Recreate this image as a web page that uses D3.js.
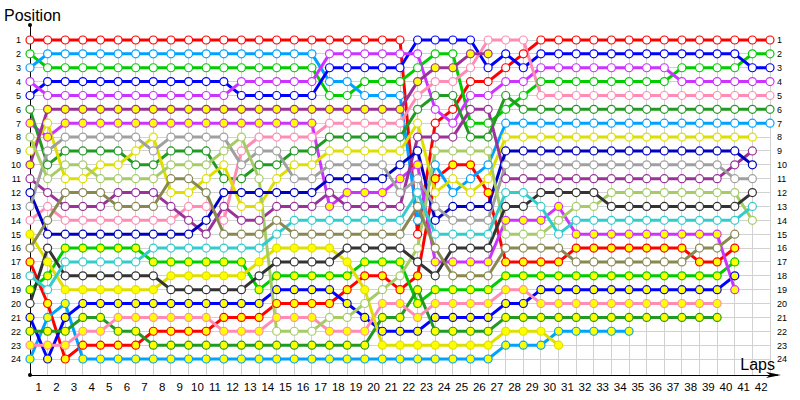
<!DOCTYPE html>
<html>
<head>
<meta charset="utf-8">
<script src="https://cdn.jsdelivr.net/npm/d3@7"></script>
<style>
  body { margin: 0; background: #fff; }
  svg { display: block; font-family: "Liberation Sans", Arial, sans-serif; }
</style>
</head>
<body>
<div id="chart"></div>
<script>
const width = 800;
const height = 400;

// drivers: code, colour, yellow-filled marker (second car of the team)
const driverCodes  = ["RW","RY","GW","GY","LW","LY","BW","BY","MW","MY","DW","DY",
                      "PW","PY","YW","YY","VW","VY","NW","AW","LIW","KW","CW","OW"];
const driverColors = ["#ff0000","#ff0000","#00cc00","#00cc00","#00a2ff","#00a2ff",
                      "#0000ff","#0000ff","#cc33ff","#cc33ff","#229922","#229922",
                      "#ff8cb4","#ff8cb4","#dede00","#dede00","#993399","#993399",
                      "#0000c0","#a0a0a0","#a6cc66","#333333","#33cccc","#888850"];
const driverFilled = [false,true,false,true,false,true,false,true,false,true,false,true,
                      false,true,false,true,false,true,false,false,false,false,false,false];

// running order at the end of each lap (lap 0 = grid), position 1 first
const lapOrder = [
  "RW GW LW MW BW DW MY LIW YW VY VW NW AW PW YY OW RY CW GY KW BY DY PY LY",
  "RW LW GW BW MW VY YW MY AW DW LIW VW PW OW NW KW YY GY CW RY LY DY PY BY",
  "RW LW GW BW MW VY MY AW DW LIW YW OW VW PW NW GY CW KW YY LY BY DY PY RY",
  "RW LW GW BW MW VY MY AW DW LIW YW OW VW PW NW GY CW KW YY BY DY PY RY LY",
  "RW LW GW BW MW VY MY AW DW YW LIW OW VW PW NW GY CW KW YY BY DY PY RY LY",
  "RW LW GW BW MW VY MY AW DW YW LIW VW OW PW NW GY CW KW YY BY PY DY RY LY",
  "RW LW GW BW MW VY MY AW YW DW LIW VW OW PW NW GY CW KW YY BY PY DY RY LY",
  "RW LW GW BW MW VY MY YW AW DW LIW VW OW PW NW CW GY KW YY BY PY RY DY LY",
  "RW LW GW BW MW VY MY AW DW LIW OW YW VW PW NW CW GY YY KW BY PY RY DY LY",
  "RW LW GW BW MW VY MY AW DW LIW OW YW PW VW NW CW GY YY KW BY PY RY DY LY",
  "RW LW GW BW MW VY MY AW DW LIW YW OW PW NW VW CW GY YY KW BY PY RY DY LY",
  "RW LW GW BW MW VY MY AW LIW YW DW NW VW PW OW CW GY YY KW BY RY PY DY LY",
  "RW LW GW MW BW VY MY LIW PW AW DW NW YW VW OW CW GY YY KW BY RY PY DY LY",
  "RW LW GW MW BW VY MY PW AW DW LIW NW YW VW OW CW YY KW GY BY RY PY DY LY",
  "RW LW GW MW BW VY MY PW AW DW YW NW VW OW CW YY KW GY BY RY PY LIW DY LY",
  "RW LW GW MW BW VY MY PW DW YW AW NW VW CW OW YY KW GY BY RY PY LIW DY LY",
  "RW LW GW MW BW VY MY PW DW YW AW NW VW CW OW YY KW GY BY RY PY LIW DY LY",
  "RW MW BW LW GW VY PW DW YW AW NW VW MY CW OW YY KW GY BY RY LIW PY DY LY",
  "RW MW BW LW GW VY PW DW YW AW NW MY VW CW OW KW YY GY RY BY LIW PY DY LY",
  "RW MW BW GW LW VY PW DW YW AW NW MY VW CW OW KW GY RY YY LIW BY PY DY LY",
  "RW MW BW GW LW VY PW DW YW AW NW MY VW CW OW KW GY RY LIW PY DY BY YY LY",
  "RW MW BW GW LW VY PW DW YW NW MY AW VW CW OW KW GY LIW RY PY DY BY YY LY",
  "BW MW GW VY PW DW YW VW NW MY AW CW OW LW RW LIW KW RY DY GY PY BY YY LY",
  "BW GW VY PW DW MW RW VW LIW LW RY YW AW NW CW OW MY KW GY PY BY DY YY LY",
  "BW GW VY PW DW RW MW VW LIW RY YW LW NW AW CW KW MY OW GY PY BY DY YY LY",
  "BW VY PW RW MW VW GW DW LIW RY LW YW NW AW CW KW MY OW GY PY BY DY YY LY",
  "PW VY BW RW MW VW GW DW LIW LW YW RY NW AW CW KW MY OW GY PY BY DY YY LY",
  "PW BW RW MW DW GW LW YW NW AW VW CW KW MY LIW OW RY GY PY BY DY YY LY",
  "PW RW BW MW GW DW LW YW NW AW VW CW KW MY LIW OW RY GY PY BY DY YY LY",
  "RW BW MW GW PW DW LW YW NW AW VW KW CW MY LIW OW RY GY BY PY DY YY LY",
  "RW BW MW GW PW DW LW YW NW AW VW KW MY LIW CW OW RY GY BY PY DY LY YY",
  "RW BW MW GW PW DW LW YW NW AW VW KW LIW CW MY RY OW GY BY PY DY LY",
  "RW BW MW GW PW DW LW YW NW AW VW KW LIW CW MY RY OW GY BY PY DY LY",
  "RW BW MW GW PW DW LW YW NW AW VW LIW KW CW MY RY OW GY BY PY DY LY",
  "RW BW MW GW PW DW LW YW NW AW VW LIW KW CW MY RY OW GY BY PY DY LY",
  "RW BW MW GW PW DW LW YW NW AW VW LIW KW CW MY RY OW GY BY PY DY",
  "RW BW MW GW PW DW LW YW NW AW VW LIW KW CW MY RY OW GY BY PY DY",
  "RW BW GW MW PW DW LW YW NW AW VW LIW KW CW MY RY OW GY BY PY DY",
  "RW BW GW MW PW DW LW YW NW AW VW LIW KW CW MY OW RY GY BY PY DY",
  "RW BW GW MW PW DW LW YW NW AW VW LIW KW CW MY OW RY GY BY PY DY",
  "RW BW GW MW PW DW LW YW NW VW AW LIW KW CW OW RY GY BY MY",
  "RW GW BW MW PW DW LW YW VW NW AW KW CW LIW",
  "RW GW BW MW PW DW LW"
];

const lapLabels = d3.range(1, 43);
const positionLabels = d3.range(1, 25);

// series per driver built from the running order
const series = driverCodes.map((code, i) => ({
  code: code,
  color: driverColors[i],
  filled: driverFilled[i],
  points: lapOrder.map((s, lap) => ({ lap: lap, pos: s.split(" ").indexOf(code) + 1 }))
                  .filter(p => p.pos > 0)
}));

const x = d3.scaleLinear().domain([0, 42]).range([30, 770]);
const y = d3.scaleLinear().domain([1, 24]).range([40, 359]);
const xBand = d3.scaleBand().domain(lapLabels).range([x(0), x(42)]);
const axisY = 375;

const svg = d3.select("#chart").append("svg")
    .attr("width", width)
    .attr("height", height);

// grid
svg.append("g").selectAll("line")
    .data(d3.range(0, 43))
    .enter().append("line")
    .attr("x1", d => x(d)).attr("x2", d => x(d))
    .attr("y1", y(1)).attr("y2", axisY)
    .attr("stroke", "#d2d2d2").attr("stroke-width", 1)
    .attr("shape-rendering", "crispEdges");

svg.append("g").selectAll("line")
    .data(positionLabels)
    .enter().append("line")
    .attr("x1", x(0)).attr("x2", x(42))
    .attr("y1", d => y(d)).attr("y2", d => y(d))
    .attr("stroke", "#d2d2d2").attr("stroke-width", 1)
    .attr("shape-rendering", "crispEdges");

// axes
svg.append("line")
    .attr("x1", 30).attr("x2", 30).attr("y1", 25).attr("y2", axisY)
    .attr("stroke", "#000").attr("shape-rendering", "crispEdges");
svg.append("line")
    .attr("x1", 30).attr("x2", 778).attr("y1", axisY).attr("y2", axisY)
    .attr("stroke", "#000").attr("shape-rendering", "crispEdges");
svg.append("path")
    .attr("d", "M766,372 L781,375 L766,378 L770,375 Z")
    .attr("fill", "#000");
svg.append("circle").attr("cx", 30).attr("cy", 25).attr("r", 2).attr("fill", "#000");
svg.append("circle").attr("cx", 30).attr("cy", axisY).attr("r", 2).attr("fill", "#000");

const yLeft = svg.append("g")
    .attr("transform", "translate(30,0)")
    .call(d3.axisLeft(y).tickValues(positionLabels).tickSize(0).tickPadding(9).tickFormat(d3.format("d")));
const yRight = svg.append("g")
    .attr("transform", "translate(770,0)")
    .call(d3.axisRight(y).tickValues(positionLabels).tickSize(0).tickPadding(7).tickFormat(d3.format("d")));
[yLeft, yRight].forEach(g => {
  g.select(".domain").remove();
  g.selectAll("text").attr("font-size", 9).attr("fill", "#000")
      .attr("font-family", "Liberation Sans, Arial, sans-serif");
});

const xAxis = svg.append("g")
    .attr("transform", "translate(0," + axisY + ")")
    .call(d3.axisBottom(xBand).tickSize(0).tickPadding(8));
xAxis.select(".domain").remove();
xAxis.selectAll("text").attr("font-size", 11.5).attr("fill", "#000")
    .attr("font-family", "Liberation Sans, Arial, sans-serif");

svg.append("text")
    .attr("x", 4).attr("y", 21)
    .attr("font-size", 16)
    .text("Position");
svg.append("text")
    .attr("x", 775).attr("y", 370)
    .attr("text-anchor", "end")
    .attr("font-size", 16)
    .text("Laps");

// lines
const line = d3.line()
    .x(d => x(d.lap))
    .y(d => y(d.pos));

svg.append("g").selectAll("path")
    .data(series)
    .enter().append("path")
    .attr("d", d => line(d.points))
    .attr("fill", "none")
    .attr("stroke", d => d.color)
    .attr("stroke-width", 3)
    .attr("stroke-linejoin", "round");

// markers
const groups = svg.append("g").selectAll("g")
    .data(series)
    .enter().append("g");

groups.selectAll("circle")
    .data(d => d.points.map(p => ({ lap: p.lap, pos: p.pos, color: d.color, filled: d.filled })))
    .enter().append("circle")
    .attr("cx", d => x(d.lap))
    .attr("cy", d => y(d.pos))
    .attr("r", 4)
    .attr("fill", d => d.filled ? "#ffff00" : "#fff")
    .attr("stroke", d => d.color)
    .attr("stroke-width", 1.2);
</script>
</body>
</html>
